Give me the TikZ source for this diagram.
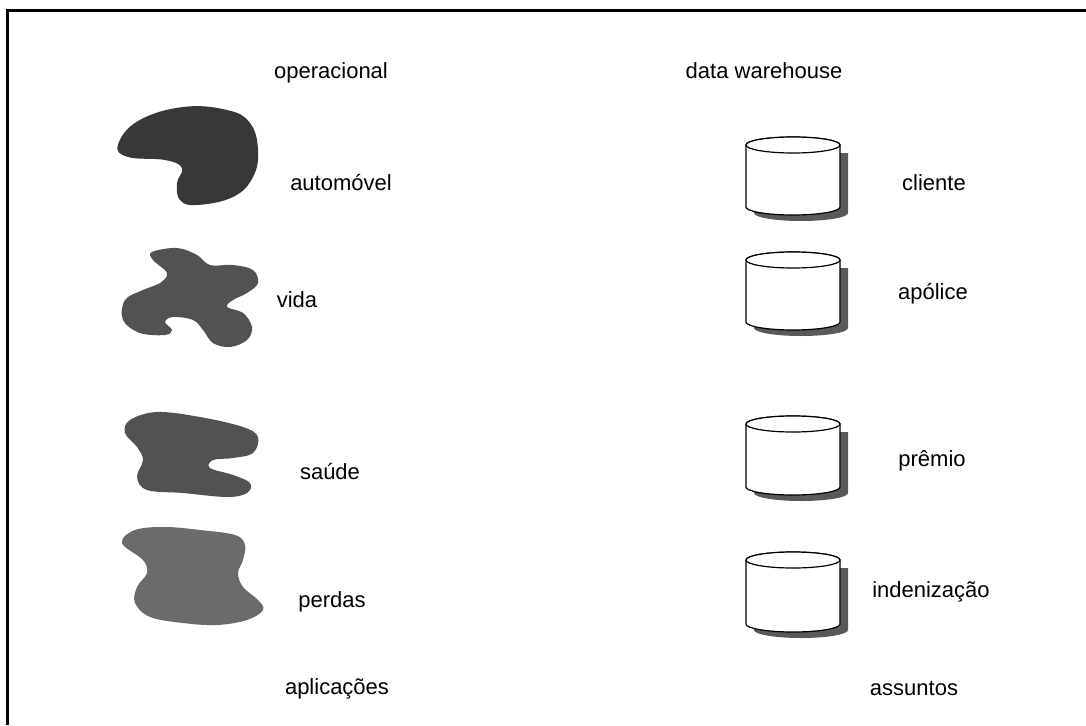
\documentclass[tikz,border=0pt]{standalone}
\usepackage{fontspec}
\setmainfont{Liberation Sans}
\begin{document}
\begin{tikzpicture}[x=1pt,y=1pt,
  lbl/.style={anchor=base,inner sep=0pt,font=\fontsize{22}{26}\selectfont},
  blob/.style={draw=none},
  cyl/.style={draw=black,line width=1.2pt,fill=white},
  shadow/.style={fill=black!65,draw=none}]
\useasboundingbox (0,0) rectangle (1086,-725);
\fill[white] (0,0) rectangle (1086,-725);
% frame
\draw[line width=3pt] (7,-725) -- (7,-11) -- (1086,-11);
% headings
\node[lbl] (op) at (331,-78) {operacional};
\node[lbl] (dw) at (764,-78) {data warehouse};
\node[lbl] (ap) at (337,-694) {aplicações};
\node[lbl] (as) at (914,-695) {assuntos};
% left labels
\node[lbl] (auto) at (341,-190) {automóvel};
\node[lbl] (vida) at (297,-307) {vida};
\node[lbl] (saude) at (330,-479) {saúde};
\node[lbl] (perdas) at (332,-607) {perdas};
% right labels
\node[lbl] (cli) at (934,-190) {cliente};
\node[lbl] (apo) at (933,-299) {apólice};
\node[lbl] (pre) at (932,-466) {prêmio};
\node[lbl] (ind) at (931,-597) {indenização};
% blobs
\fill[blob,fill=black!78] plot[smooth cycle,tension=0.7] coordinates{
 (118,-145) (138,-121) (183,-107) (227,-110) (250,-123) (258,-150) (253,-177)
 (233,-197) (197,-205) (180,-200) (177,-183) (182,-168) (165,-160) (128,-157)};
\fill[blob,fill=black!68] plot[smooth cycle,tension=0.6] coordinates{
 (152,-252) (177,-248) (197,-255) (210,-265) (233,-265) (253,-270) (258,-283)
 (247,-293) (233,-300) (227,-307) (243,-313) (252,-327) (247,-340) (230,-347)
 (213,-343) (203,-330) (193,-320) (173,-317) (165,-322) (172,-330) (165,-335)
 (140,-333) (123,-320) (125,-300) (143,-290) (160,-283) (167,-273) (153,-260)};
\fill[blob,fill=black!68] plot[smooth cycle,tension=0.6] coordinates{
 (130,-420) (157,-412) (200,-417) (243,-427) (258,-437) (253,-453) (233,-458)
 (213,-460) (210,-468) (233,-475) (250,-483) (247,-493) (227,-497) (183,-493)
 (147,-490) (137,-477) (143,-460) (137,-447) (125,-433)};
\fill[blob,fill=black!58] plot[smooth cycle,tension=0.6] coordinates{
 (122,-543) (135,-530) (165,-527) (200,-530) (235,-535) (245,-545) (243,-560)
 (238,-573) (243,-587) (258,-600) (263,-610) (247,-620) (217,-625) (183,-623)
 (150,-617) (135,-603) (137,-587) (147,-573) (143,-560)};
% cylinders
\foreach \yt/\yb/\nm in {145/207/c1, 260/322/c2, 424/487/c3, 560/624/c4}{
  \fill[shadow] (754,-\yt-8) -- (754,-\yb-6) arc[start angle=180,end angle=360,x radius=47,y radius=8] -- (848,-\yt-8) -- cycle;
  \draw[cyl] (746,-\yt) -- (746,-\yb) arc[start angle=180,end angle=360,x radius=47,y radius=8] -- (840,-\yt) arc[start angle=0,end angle=180,x radius=47,y radius=8] -- cycle;
  \draw[cyl] (793,-\yt) ellipse[x radius=47,y radius=8];
  \coordinate (\nm) at (793,-\yt);
}
\end{tikzpicture}
\end{document}
